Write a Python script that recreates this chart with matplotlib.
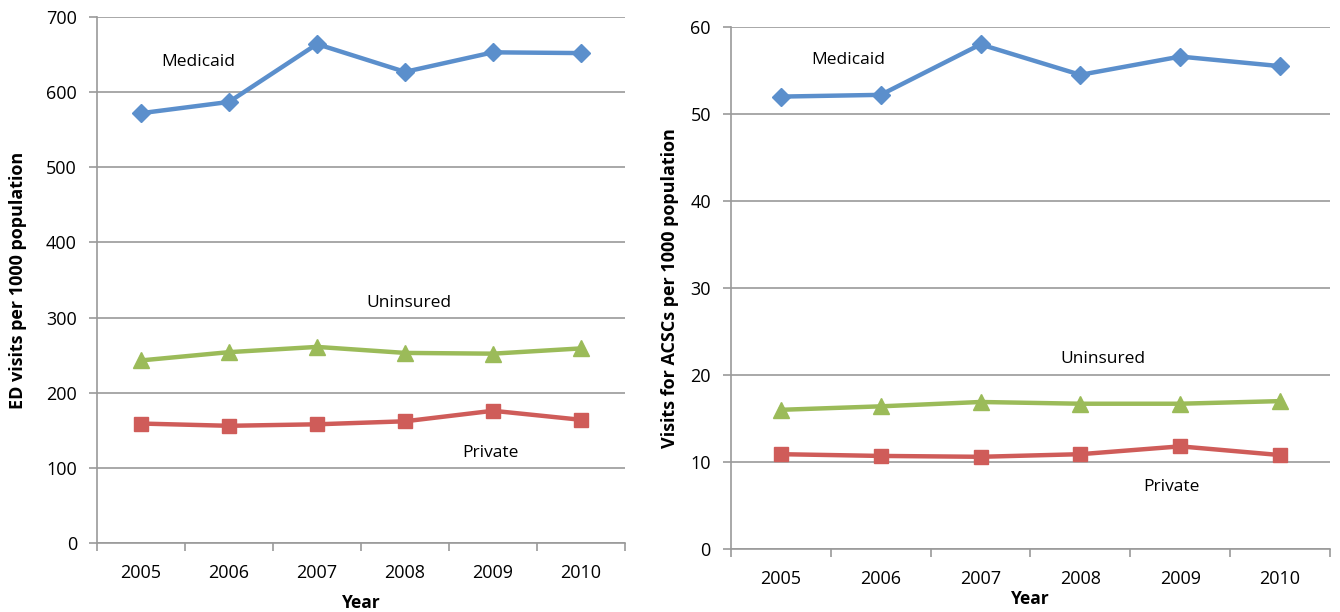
import matplotlib
import matplotlib.pyplot as plt

matplotlib.use('Agg')

years = ['2005', '2006', '2007', '2008', '2009', '2010']

# left panel: ED visits per 1000 population
ed_medicaid = [572, 587, 664, 627, 653, 652]
ed_uninsured = [243, 254, 261, 253, 252, 259]
ed_private = [159, 156, 158, 162, 176, 164]

# right panel: visits for ACSCs per 1000 population
acsc_medicaid = [52.0, 52.2, 58.0, 54.5, 56.6, 55.5]
acsc_uninsured = [16.0, 16.4, 16.9, 16.7, 16.7, 17.0]
acsc_private = [10.9, 10.7, 10.6, 10.9, 11.8, 10.8]

BLUE = '#5b8fcc'
RED = '#cf5c59'
GREEN = '#9bbb59'
GRID = '#9a9a9a'

plt.rcParams['font.family'] = ['Open Sans', 'DejaVu Sans']

fig = plt.figure(figsize=(13.4, 6.12), dpi=100)
ax1 = fig.add_axes([0.0724, 0.1127, 0.394, 0.8595])
ax2 = fig.add_axes([0.5455, 0.1029, 0.447, 0.853])


def style(ax, ymax, ystep, ylabel, ylab_pad, xlab_pad):
    x = range(len(years))
    ax.set_xlim(-0.5, len(years) - 0.5)
    ax.set_ylim(0, ymax)
    ax.set_yticks(range(0, ymax + 1, ystep))
    ax.set_xticks([i - 0.5 for i in range(len(years) + 1)])
    ax.set_xticklabels([])
    ax.set_xticks(list(x), minor=True)
    ax.set_xticklabels(years, minor=True)
    ax.tick_params(axis='x', which='major', length=6, color=GRID, width=1.2)
    ax.tick_params(axis='x', which='minor', length=0, labelsize=13, pad=15)
    ax.tick_params(axis='y', length=6, color=GRID, width=1.2, labelsize=13, pad=8.5)
    ax.grid(axis='y', color=GRID, linewidth=1.2)
    ax.set_axisbelow(True)
    for s in ['top', 'right']:
        ax.spines[s].set_visible(False)
    for s in ['left', 'bottom']:
        ax.spines[s].set_color(GRID)
        ax.spines[s].set_linewidth(1.2)
    ax.set_ylabel(ylabel, fontsize=13, fontweight='bold', labelpad=ylab_pad)
    ax.set_xlabel('Year', fontsize=12.5, fontweight='bold', labelpad=xlab_pad)


def draw(ax, med, uni, pri):
    x = range(len(years))
    ax.plot(x, med, color=BLUE, lw=3.2, marker='D', ms=9, zorder=3)
    ax.plot(x, uni, color=GREEN, lw=3.2, marker='^', ms=11, zorder=3)
    ax.plot(x, pri, color=RED, lw=3.2, marker='s', ms=10, zorder=3)


draw(ax1, ed_medicaid, ed_uninsured, ed_private)
style(ax1, 700, 100, 'ED visits per 1000 population', 14, 9)
ax1.text(0.65, 640, 'Medicaid', fontsize=12.5, ha='center', va='center')
ax1.text(3.05, 320, 'Uninsured', fontsize=12.5, ha='center', va='center')
ax1.text(3.97, 120, 'Private', fontsize=12.5, ha='center', va='center')

draw(ax2, acsc_medicaid, acsc_uninsured, acsc_private)
style(ax2, 60, 10, 'Visits for ACSCs per 1000 population', 8, 1.5)
ax2.text(0.67, 56.2, 'Medicaid', fontsize=12.5, ha='center', va='center')
ax2.text(3.23, 21.8, 'Uninsured', fontsize=12.5, ha='center', va='center')
ax2.text(3.91, 7.1, 'Private', fontsize=12.5, ha='center', va='center')

fig.savefig('out.png', dpi=100)
